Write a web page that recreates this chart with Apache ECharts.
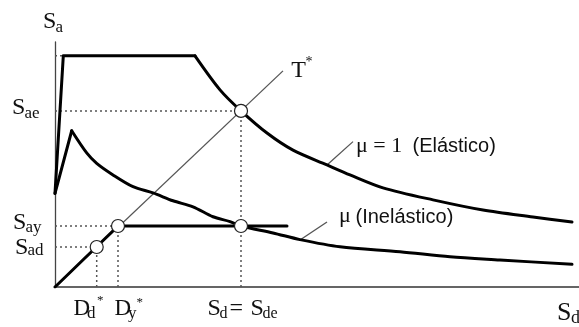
<!DOCTYPE html>
<html>
<head>
<meta charset="utf-8">
<script src="https://cdn.jsdelivr.net/npm/echarts@6/dist/echarts.min.js"></script>
<style>
  html, body { margin: 0; padding: 0; background: #fff; }
  #chart { width: 579px; height: 327px; }
</style>
</head>
<body>
<div id="chart"></div>
<script>
// Spectral displacement Sd (cm) vs spectral acceleration Sa (g), ADRS format

// Elastic demand spectrum (mu = 1): rising branch + plateau, then decaying tail
const elasticRise = [[0, 0.405], [0.83, 1.0], [14.0, 1.0]];
const elasticTail = [[14.0, 1.0], [16.5, 0.853], [18.6, 0.762], [21.2, 0.666], [23.8, 0.592],
  [27.2, 0.528], [29.5, 0.485], [32.8, 0.429], [37.8, 0.377], [42.8, 0.333], [47.8, 0.303], [51.7, 0.281]];

// Inelastic demand spectrum (mu > 1)
const inelasticRise = [[0, 0.405], [1.67, 0.676]];
const inelasticTail = [[1.67, 0.676], [3.17, 0.58], [4.17, 0.535], [5.8, 0.485], [7.8, 0.434],
  [9.8, 0.407], [11.8, 0.373], [13.8, 0.347], [15.8, 0.304], [17.5, 0.283], [18.6, 0.264],
  [21.8, 0.234], [24.5, 0.205], [28.5, 0.174], [34.5, 0.153], [39.5, 0.131], [44.5, 0.117], [51.7, 0.098]];

// Bilinear capacity curve and the T* period line
const capacityCurve = [[0, 0], [6.3, 0.264], [23.2, 0.264]];
const periodLine = [[0, 0], [22.8, 0.935]];

// Marked points: Dd*/Sad, Dy*/Say, elastic demand Sde/Sae, inelastic demand
const ductilePoint = [4.17, 0.173];
const yieldPoint = [6.3, 0.264];
const elasticPoint = [18.6, 0.762];
const inelasticPoint = [18.6, 0.264];
const plateauSa = 1.0;
const plateauStartSd = 0.83;

// Leader lines pointing to the curve names
const elasticLeader = [[27.2, 0.528], [29.8, 0.629]];
const inelasticLeader = [[24.5, 0.203], [27.2, 0.281]];

const INK = '#111';
const SERIF = 'Liberation Serif';
const SANS = 'Liberation Sans';

// guide lines from a point to both axes
function toAxes(p, horiz, vert) {
  const segs = [];
  if (horiz) segs.push([[0, p[1]], [p[0], p[1]]]);
  if (vert) segs.push([[p[0], 0], [p[0], p[1]]]);
  return segs;
}
const guideSegments = [
  [[0, plateauSa], [plateauStartSd, plateauSa]],
  ...toAxes(elasticPoint, true, true),
  ...toAxes(yieldPoint, true, true),
  ...toAxes(ductilePoint, true, true)
];

const dotted = { color: '#555', width: 1.5, type: [2, 3] };
const guideSeries = guideSegments.map(seg => ({
  type: 'line', data: seg, showSymbol: false, silent: true, z: 1,
  lineStyle: dotted
}));

function thick(data, smooth) {
  return { type: 'line', data, showSymbol: false, silent: true, z: 3, smooth: smooth || false,
    lineStyle: { color: '#000', width: 3, join: 'round', cap: 'round' } };
}
function thin(data) {
  return { type: 'line', data, showSymbol: false, silent: true, z: 2,
    lineStyle: { color: '#555', width: 1.3 } };
}

// text placed by its alphabetic baseline
function t(x, base, str, size, fam) {
  fam = fam || SERIF;
  const k = fam === SERIF ? 0.3375 : 0.3465;
  return { type: 'text', x: x, y: base + 1.5 - k * size, z: 100, silent: true,
    style: { text: str, font: size + 'px "' + fam + '"', fill: INK, align: 'left', verticalAlign: 'middle' } };
}

const labels = [
  t(43, 28, 'S', 24), t(55.5, 32, 'a', 17),
  t(12, 114.7, 'S', 24), t(24.5, 118, 'ae', 17),
  t(13, 229.7, 'S', 24), t(25.5, 231.5, 'ay', 17),
  t(15, 254, 'S', 24), t(27.5, 255, 'ad', 17),
  t(73.5, 315, 'D', 23), t(87, 318, 'd', 17), t(97, 303.6, '*', 13),
  t(114.5, 315, 'D', 23), t(128, 317.5, 'y', 17), t(136.5, 305.3, '*', 13),
  t(207.5, 315, 'S', 24), t(219.5, 318, 'd', 16), t(229.5, 315, '=', 24),
  t(250.5, 315, 'S', 24), t(262.5, 318, 'de', 16),
  t(557, 320, 'S', 26), t(571, 323, 'd', 18),
  t(291.3, 77.3, 'T', 24), t(305.5, 65.4, '*', 14),
  t(356, 151.7, 'μ = 1', 22), t(412.5, 151.7, '(Elástico)', 20, SANS),
  t(339, 222.5, 'μ', 22), t(355.5, 223.3, '(Inelástico)', 20, SANS)
];

const chart = echarts.init(document.getElementById('chart'), null, { renderer: 'canvas' });
chart.setOption({
  animation: false,
  backgroundColor: '#fff',
  grid: { left: 55, right: 0, top: 42, bottom: 40 },
  xAxis: {
    type: 'value', min: 0, max: 52.4,
    axisLine: { show: true, lineStyle: { color: '#333', width: 1.5 } },
    axisTick: { show: false }, axisLabel: { show: false }, splitLine: { show: false }
  },
  yAxis: {
    type: 'value', min: 0, max: 1.06,
    axisLine: { show: true, lineStyle: { color: '#444', width: 1.3 } },
    axisTick: { show: false }, axisLabel: { show: false }, splitLine: { show: false }
  },
  series: [
    ...guideSeries,
    thin(periodLine),
    thin(elasticLeader),
    thin(inelasticLeader),
    thick(elasticRise),
    thick(elasticTail, 0.3),
    thick(inelasticRise),
    thick(inelasticTail, 0.3),
    thick(capacityCurve),
    {
      type: 'scatter', z: 5, silent: true,
      data: [ductilePoint, yieldPoint, elasticPoint, inelasticPoint],
      symbol: 'circle', symbolSize: 13,
      itemStyle: { color: '#fff', borderColor: '#222', borderWidth: 1.2, opacity: 1 }
    }
  ],
  graphic: labels
});
</script>
</body>
</html>
